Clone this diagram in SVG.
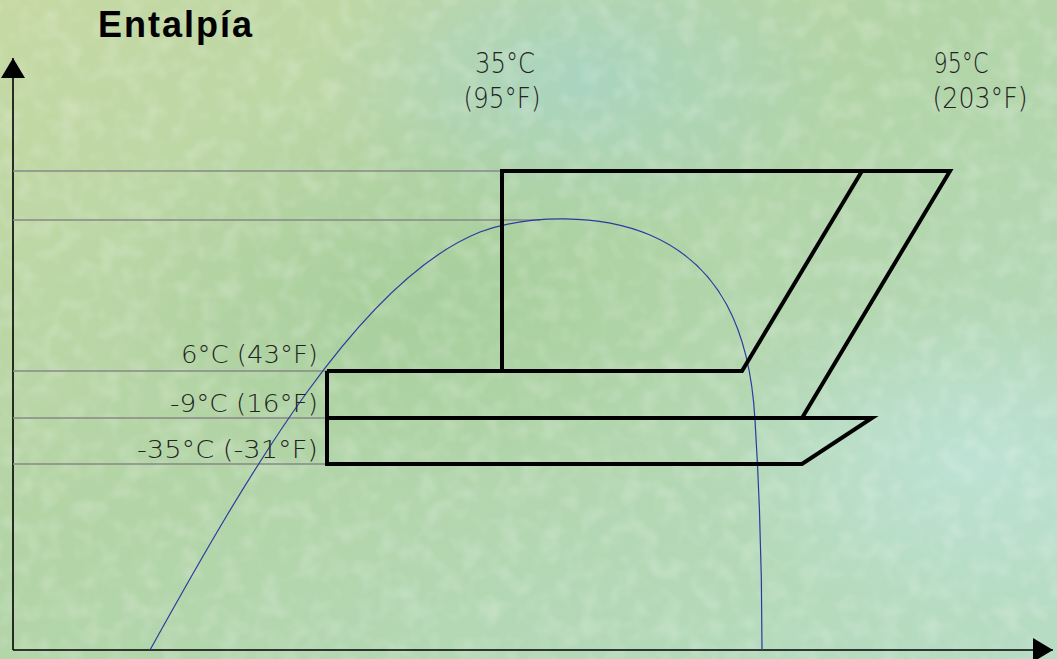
<svg xmlns="http://www.w3.org/2000/svg" width="1057" height="659" viewBox="0 0 1057 659">
<defs>
<linearGradient id="bg" x1="0" y1="0" x2="1" y2="1">
<stop offset="0" stop-color="#c6d9a4"/>
<stop offset="0.45" stop-color="#b2d4a6"/>
<stop offset="1" stop-color="#b6dcc4"/>
</linearGradient>
<radialGradient id="b1" cx="0.55" cy="0.12" r="0.25">
<stop offset="0" stop-color="#a6d4c6" stop-opacity="0.8"/>
<stop offset="1" stop-color="#a6d4c6" stop-opacity="0"/>
</radialGradient>
<radialGradient id="b2" cx="0.92" cy="0.7" r="0.25">
<stop offset="0" stop-color="#c0e4dc" stop-opacity="0.8"/>
<stop offset="1" stop-color="#c0e4dc" stop-opacity="0"/>
</radialGradient>
<radialGradient id="b3" cx="0.4" cy="0.45" r="0.3">
<stop offset="0" stop-color="#a2cc98" stop-opacity="0.7"/>
<stop offset="1" stop-color="#a2cc98" stop-opacity="0"/>
</radialGradient>
<filter id="tex" x="0" y="0" width="1" height="1">
<feTurbulence type="fractalNoise" baseFrequency="0.05" numOctaves="2" seed="3" result="n"/>
<feColorMatrix in="n" type="matrix" values="0 0 0 0 1  0 0 0 0 1  0 0 0 0 1  0 0 0 -2.2 1.25" />
</filter>
<marker id="ah" viewBox="0 0 20 24" refX="20" refY="12" markerWidth="20" markerHeight="24" markerUnits="userSpaceOnUse" orient="auto">
<path d="M0,0 L20,12 L0,24 Z" fill="#000"/>
</marker>
<style>
.t{font-family:"DejaVu Sans","Liberation Sans",sans-serif;font-weight:200;fill:#222;}
.thin{stroke:#888;stroke-width:1.3;fill:none;}
.cyc{stroke:#000;stroke-width:4;fill:none;stroke-linejoin:miter;}
.axis{stroke:#000;stroke-width:1.6;fill:none;}
</style>
</defs>
<g id="background">
<rect width="1057" height="659" fill="url(#bg)"/>
<rect width="1057" height="659" fill="url(#b1)"/>
<rect width="1057" height="659" fill="url(#b2)"/>
<rect width="1057" height="659" fill="url(#b3)"/>
<rect width="1057" height="659" filter="url(#tex)" opacity="0.2"/>
</g>
<g id="title"><text x="98" y="37" font-family="Liberation Sans, Arial, sans-serif" font-weight="bold" font-size="36" fill="#000" textLength="154">Entalpía</text></g>
<g id="connectors">
<path class="axis" d="M13,650 V58" marker-end="url(#ah)"/>
<path class="axis" d="M13,650 H1053" marker-end="url(#ah)"/>
<path class="thin" d="M13,171 H502 M13,220 H540 M13,371 H327 M13,418 H327 M13,464 H327"/>
<path d="M150,650 C250,470 360,280 480,232 C530,214 600,214 650,235 C720,265 750,330 755,420 C760,500 762,580 762,650" stroke="#2b3aa0" stroke-width="1.2" fill="none"/>
</g>
<g id="cycle-high">
<path class="cyc" d="M502,371 V171 H950 L802,418"/>
<path class="cyc" d="M862,171 L742,371 H327"/>
</g>
<g id="cycle-low">
<path class="cyc" d="M327,371 V464 H802 L872,418 H327"/>
</g>
<g id="labels">
<text class="t" x="505" y="73" font-size="28" text-anchor="middle" textLength="60" lengthAdjust="spacingAndGlyphs">35°C</text>
<text class="t" x="502" y="108" font-size="28" text-anchor="middle" textLength="77" lengthAdjust="spacingAndGlyphs">(95°F)</text>
<text class="t" x="961" y="73" font-size="28" text-anchor="middle" textLength="55" lengthAdjust="spacingAndGlyphs">95°C</text>
<text class="t" x="980" y="108" font-size="28" text-anchor="middle" textLength="95" lengthAdjust="spacingAndGlyphs">(203°F)</text>
<text class="t" x="318" y="363" font-size="25" text-anchor="end" textLength="137" lengthAdjust="spacingAndGlyphs">6°C (43°F)</text>
<text class="t" x="318" y="412" font-size="25" text-anchor="end" textLength="148" lengthAdjust="spacingAndGlyphs">-9°C (16°F)</text>
<text class="t" x="318" y="458" font-size="25" text-anchor="end" textLength="181" lengthAdjust="spacingAndGlyphs">-35°C (-31°F)</text>
</g>
</svg>
